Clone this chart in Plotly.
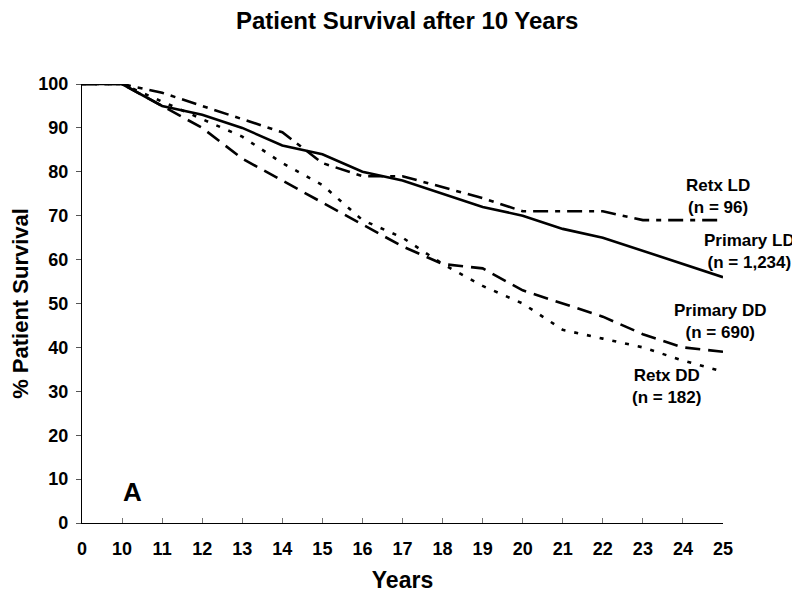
import plotly.graph_objects as go

years = ["0", "10", "11", "12", "13", "14", "15", "16", "17", "18", "19", "20", "21", "22", "23", "24", "25"]
primary_ld = [100, 100, 95, 93, 90, 86, 84, 80, 78, 75, 72, 70, 67, 65, 62, 59, 56]
retx_ld = [100, 100, 98, 95, 92, 89, 82, 79, 79, 76.5, 74, 71, 71, 71, 69, 69, 69]
primary_dd = [100, 100, 95, 90, 83, 78, 73, 68, 63, 59, 58, 53, 50, 47, 43, 40, 39]
retx_dd = [100, 100, 96, 92, 88, 82, 77, 69, 65, 59, 54, 50, 44, 42, 40, 37, 34.5]

# label texts with their (category index, % survival) anchor in data space
label_texts = ["Retx LD<br>(n = 96)", "Primary LD<br>(n = 1,234)",
               "Primary DD<br>(n = 690)", "Retx DD<br>(n = 182)"]
label_x = [15.88, 16.65, 15.95, 14.6]
label_y = [74.3, 61.8, 45.9, 31.0]

FONT = "Arial, Liberation Sans, sans-serif"
xs = list(range(len(years)))
X_MAX = len(years) - 1
Y_MAX = 100

fig = go.Figure()
series = [
    (primary_ld, "solid", "Primary LD"),
    (retx_ld, "15px,7px,5px,7px", "Retx LD"),
    (primary_dd, "15px,8px", "Primary DD"),
    (retx_dd, "4px,9px", "Retx DD"),
]
for ys, dash, name in series:
    fig.add_trace(go.Scatter(x=xs, y=ys, mode="lines", name=name,
                             line=dict(color="black", width=2.6, dash=dash),
                             cliponaxis=False, showlegend=False))

# labels may sit beyond the axis range, so place them in paper space
for txt, lx, ly in zip(label_texts, label_x, label_y):
    fig.add_annotation(text=txt, x=lx / X_MAX, y=ly / Y_MAX, xref="paper", yref="paper",
                       showarrow=False, xanchor="center", yanchor="middle",
                       font=dict(family=FONT, size=17, color="black", weight="bold"))

fig.add_annotation(text="A", x=1.27, y=7.0, xref="x", yref="y",
                   showarrow=False, xanchor="center", yanchor="middle",
                   font=dict(family=FONT, size=26, color="black", weight="bold"))

fig.update_layout(
    width=800, height=596,
    paper_bgcolor="white", plot_bgcolor="white",
    margin=dict(l=74, r=85, t=76, b=81),
    title=dict(text="Patient Survival after 10 Years", x=0.499, xanchor="center",
               y=1 - 13 / 596, yanchor="middle",
               font=dict(family=FONT, size=24, color="black", weight="bold")),
    xaxis=dict(range=[0, X_MAX], tickmode="array", tickvals=xs, ticktext=years,
               automargin=False,
               showgrid=False, zeroline=False, showline=True, linecolor="black", linewidth=1.2,
               ticks="inside", ticklen=5, tickcolor="#777", tickwidth=1,
               ticklabelstandoff=9,
               tickfont=dict(family=FONT, size=18, color="black", weight="bold"),
               title=dict(text="Years", font=dict(family=FONT, size=23, color="black", weight="bold"),
                          standoff=14)),
    yaxis=dict(range=[0, Y_MAX], tickmode="array", tickvals=list(range(0, 101, 10)),
               ticktext=[str(v) for v in range(0, 101, 10)],
               automargin=False,
               showgrid=False, zeroline=False, showline=True, linecolor="black", linewidth=1.2,
               ticks="outside", ticklen=5, tickcolor="#555", tickwidth=1,
               ticklabelstandoff=4,
               tickfont=dict(family=FONT, size=18, color="black", weight="bold"),
               title=dict(text="% Patient Survival",
                          font=dict(family=FONT, size=22, color="black", weight="bold"), standoff=12)),
)

fig.write_html("out.html")
